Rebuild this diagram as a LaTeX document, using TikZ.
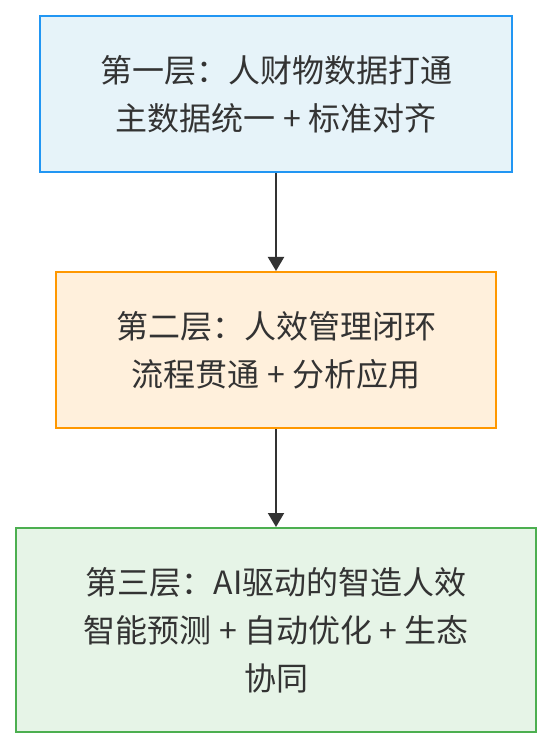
\documentclass[tikz,border=0pt]{standalone}
\usepackage{fontspec}
\setmainfont{Noto Sans CJK SC}
\usepackage{tikz}
\usetikzlibrary{positioning,calc,arrows.meta}
\definecolor{textgray}{HTML}{333333}
\definecolor{blueline}{HTML}{2196F3}
\definecolor{bluefill}{HTML}{E6F3F9}
\definecolor{orangeline}{HTML}{FF9800}
\definecolor{orangefill}{HTML}{FFF0DC}
\definecolor{greenline}{HTML}{4CAF50}
\definecolor{greenfill}{HTML}{E6F4E7}

\begin{document}
\begin{tikzpicture}[x=0.75pt,y=-0.75pt,
                -{Triangle[width=12pt,length=10.5pt]},line width=1.5pt,
                layer node/.style={rectangle,draw,line width=1.5pt,align=center,text=textgray,
                  font=\fontsize{24}{36}\selectfont,inner sep=0pt}]
\useasboundingbox (0,0) rectangle (552,748);
%Nodes
    \node[layer node, draw=blueline, fill=bluefill, minimum width=472*0.75pt, minimum height=156*0.75pt] (L1) at (276,94)
        {第一层：人财物数据打通\\主数据统一 + 标准对齐};
    \node[layer node, draw=orangeline, fill=orangefill, minimum width=440*0.75pt, minimum height=156*0.75pt] (L2) at (276,350)
        {第二层：人效管理闭环\\流程贯通 + 分析应用};
    \node[layer node, draw=greenline, fill=greenfill, minimum width=520*0.75pt, minimum height=204*0.75pt] (L3) at (276,630)
        {第三层：AI驱动的智造人效\\智能预测 + 自动优化 + 生态\\协同};

    \draw[color=textgray] (L1) edge (L2);
    \draw[color=textgray] (L2) edge (L3);
\end{tikzpicture}
\end{document}
